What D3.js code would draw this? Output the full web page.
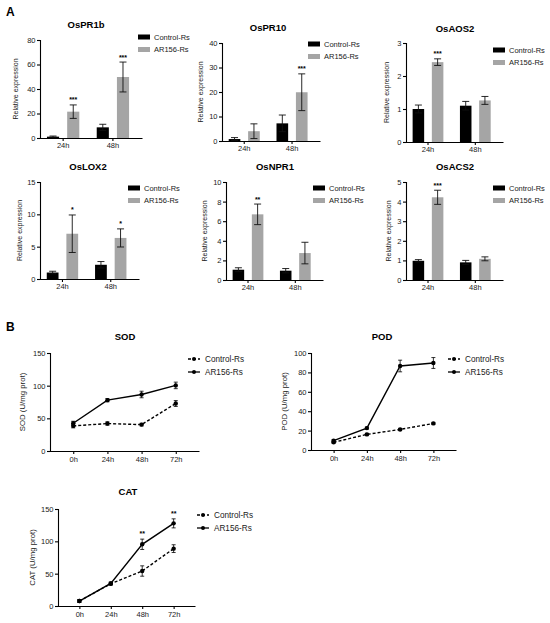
<!DOCTYPE html>
<html>
<head>
<meta charset="utf-8">
<script src="https://cdn.jsdelivr.net/npm/d3@7"></script>
<style>
  body { margin: 0; background: #fff; }
  svg { font-family: "Liberation Sans", Arial, sans-serif; }
</style>
</head>
<body>
<script>
// ---- data ----
const groups = ['24h', '48h'];
const seriesNames = ['Control-Rs', 'AR156-Rs'];
const genes = ['OsPR1b', 'OsPR10', 'OsAOS2', 'OsLOX2', 'OsNPR1', 'OsACS2'];
const controlMean = [[1.1, 8.7], [0.8, 7.2], [1.0, 1.1], [1.0, 2.2], [1.05, 0.95], [0.98, 0.9]];
const controlErr  = [[0.5, 2.5], [0.6, 3.4], [0.12, 0.13], [0.2, 0.5], [0.2, 0.22], [0.06, 0.1]];
const ar156Mean   = [[21.5, 49.8], [4.0, 19.9], [2.42, 1.26], [7.0, 6.35], [6.7, 2.75], [4.22, 1.08]];
const ar156Err    = [[5.5, 12.2], [3.0, 7.5], [0.1, 0.12], [2.9, 1.4], [1.05, 1.1], [0.36, 0.1]];
const ar156Stars  = [['***', '***'], ['', '***'], ['***', ''], ['*', '*'], ['**', ''], ['***', '']];
const geneTicks   = [[0, 20, 40, 60, 80], [0, 10, 20, 30, 40], [0, 1, 2, 3], [0, 5, 10, 15], [0, 2, 4, 6, 8, 10], [0, 1, 2, 3, 4, 5]];

const timePoints = ['0h', '24h', '48h', '72h'];
const enzymes = ['SOD', 'POD', 'CAT'];
const enzControl    = [[38.4, 42, 40.4, 72.7], [7.9, 16.1, 21.2, 27.4], [7.7, 34.5, 54.1, 88.7]];
const enzControlErr = [[3, 2.5, 2, 4.5], [1, 1, 1, 1], [2, 2, 8, 6]];
const enzAr156      = [[42.5, 77.8, 86.5, 100.4], [9.6, 22.6, 86.6, 89.7], [7.7, 35, 95.4, 127.8]];
const enzAr156Err   = [[3, 2.5, 5, 5], [1, 1, 6, 5.6], [2, 2, 8, 7]];
const enzStars      = [['', '', '', ''], ['', '', '', ''], ['', '', '**', '**']];
const enzTicks      = [[0, 50, 100, 150], [0, 20, 40, 60, 80, 100], [0, 50, 100, 150]];

// ---- layout ----
const barLayout = [
  {ax: 40,  top: 40,  bot: 138, end: 142, tx: 86,  ty: 28,  lx: 138, ly: 37,  yl: 18},
  {ax: 222, top: 43,  bot: 141, end: 320, tx: 268, ty: 31,  lx: 308, ly: 44,  yl: 203},
  {ax: 406, top: 43,  bot: 142, end: 503, tx: 455, ty: 32,  lx: 493, ly: 50,  yl: 389},
  {ax: 40,  top: 182, bot: 279, end: 139, tx: 88,  ty: 170, lx: 128, ly: 188, yl: 22},
  {ax: 226, top: 182, bot: 280, end: 323, tx: 275, ty: 170, lx: 313, ly: 188, yl: 207},
  {ax: 406, top: 182, bot: 280, end: 503, tx: 455, ty: 170, lx: 493, ly: 188, yl: 391}
];
const lineLayout = [
  {ax: 50,  top: 353, bot: 451, end: 199, tx: 125, ty: 340, lx: 188, ly: 359, yl: 25},
  {ax: 311, top: 353, bot: 450, end: 456, tx: 382, ty: 340, lx: 448, ly: 359, yl: 287},
  {ax: 58,  top: 509, bot: 606, end: 195, tx: 128, ty: 495, lx: 197, ly: 515, yl: 35}
];
const colors = ['#000000', '#a5a5a5'];
const txt = '#1a1a1a';

const svg = d3.select('body').append('svg')
  .attr('width', 550).attr('height', 623);

svg.append('text').attr('x', 6).attr('y', 16)
  .attr('font-size', 12).attr('font-weight', 'bold').text('A');
svg.append('text').attr('x', 6).attr('y', 331)
  .attr('font-size', 12).attr('font-weight', 'bold').text('B');

function styleAxis(g) {
  g.selectAll('path, line').attr('stroke', '#000').attr('stroke-width', 1.1);
  g.selectAll('text').attr('fill', txt).attr('font-size', 7.5);
}

function drawBarPanel(i) {
  const L = barLayout[i];
  const g = svg.append('g').attr('transform', 'translate(' + L.ax + ',0)');
  const w = L.end - L.ax;

  const y = d3.scaleLinear()
    .domain([0, d3.max(geneTicks[i])])
    .range([L.bot, L.top]);
  const x0 = d3.scaleBand().domain(groups).range([0, w])
    .paddingInner(0.35).paddingOuter(0.2).align(0.35);
  const x1 = d3.scaleBand().domain(seriesNames).range([0, x0.bandwidth()])
    .paddingInner(0.4);

  const rows = [];
  groups.forEach(function(gr, j) {
    rows.push({g: gr, s: seriesNames[0], v: controlMean[i][j], e: controlErr[i][j], star: ''});
    rows.push({g: gr, s: seriesNames[1], v: ar156Mean[i][j], e: ar156Err[i][j], star: ar156Stars[i][j]});
  });

  const bars = g.selectAll('.bar').data(rows).enter().append('g');
  bars.append('rect')
    .attr('x', function(d) { return x0(d.g) + x1(d.s); })
    .attr('y', function(d) { return y(d.v); })
    .attr('width', x1.bandwidth())
    .attr('height', function(d) { return y(0) - y(d.v); })
    .attr('fill', function(d) { return colors[seriesNames.indexOf(d.s)]; });

  const cx = function(d) { return x0(d.g) + x1(d.s) + x1.bandwidth() / 2; };
  const lo = function(d) { return y(Math.max(0, d.v - d.e)); };
  const hi = function(d) { return y(d.v + d.e); };
  bars.append('line')
    .attr('x1', cx).attr('x2', cx).attr('y1', lo).attr('y2', hi)
    .attr('stroke', '#111').attr('stroke-width', 0.9);
  [lo, hi].forEach(function(f) {
    bars.append('line')
      .attr('x1', function(d) { return cx(d) - 3.5; })
      .attr('x2', function(d) { return cx(d) + 3.5; })
      .attr('y1', f).attr('y2', f)
      .attr('stroke', '#111').attr('stroke-width', 0.9);
  });
  bars.append('text')
    .attr('x', cx)
    .attr('y', function(d) { return hi(d) - 2.5; })
    .attr('text-anchor', 'middle')
    .attr('font-size', 7).attr('font-weight', 'bold')
    .text(function(d) { return d.star; });

  g.append('g').call(d3.axisLeft(y).tickValues(geneTicks[i]).tickFormat(d3.format('d'))
      .tickSize(3).tickPadding(1.5))
    .call(styleAxis);
  g.append('g').attr('transform', 'translate(0,' + L.bot + ')')
    .call(d3.axisBottom(x0).tickSize(3).tickPadding(2).tickSizeOuter(0))
    .call(styleAxis);

  svg.append('text').attr('x', L.tx).attr('y', L.ty)
    .attr('text-anchor', 'middle').attr('font-size', 9.5).attr('font-weight', 'bold')
    .text(genes[i]);
  svg.append('text')
    .attr('transform', 'translate(' + L.yl + ',' + (L.top + L.bot) / 2 + ') rotate(-90)')
    .attr('text-anchor', 'middle').attr('font-size', 7).attr('fill', txt)
    .text('Relative expression');

  seriesNames.forEach(function(s, k) {
    svg.append('rect').attr('x', L.lx).attr('y', L.ly - 2.5 + k * 12.5)
      .attr('width', 12).attr('height', 5).attr('fill', colors[k]);
    svg.append('text').attr('x', L.lx + 16).attr('y', L.ly + 2.7 + k * 12.5)
      .attr('font-size', 7.5).attr('fill', txt).text(s);
  });
}

function drawLinePanel(i) {
  const L = lineLayout[i];
  const g = svg.append('g').attr('transform', 'translate(' + L.ax + ',0)');
  const w = L.end - L.ax;

  const y = d3.scaleLinear().domain([0, d3.max(enzTicks[i])]).range([L.bot, L.top]);
  const x = d3.scalePoint().domain(timePoints).range([0, w]).padding(0.68);

  const series = [
    {name: seriesNames[0], v: enzControl[i], e: enzControlErr[i], dash: '3,2'},
    {name: seriesNames[1], v: enzAr156[i], e: enzAr156Err[i], dash: null}
  ];

  const line = d3.line()
    .x(function(d, j) { return x(timePoints[j]); })
    .y(function(d) { return y(d); });

  series.forEach(function(s) {
    g.append('path').datum(s.v)
      .attr('d', line).attr('fill', 'none')
      .attr('stroke', '#000').attr('stroke-width', 1.4)
      .attr('stroke-dasharray', s.dash);
    const pts = g.selectAll(null).data(s.v).enter().append('g');
    const px = function(d, j) { return x(timePoints[j]); };
    const lo = function(d, j) { return y(d - s.e[j]); };
    const hi = function(d, j) { return y(d + s.e[j]); };
    pts.append('line')
      .attr('x1', px).attr('x2', px).attr('y1', lo).attr('y2', hi)
      .attr('stroke', '#000').attr('stroke-width', 0.8);
    [lo, hi].forEach(function(f) {
      pts.append('line')
        .attr('x1', function(d, j) { return px(d, j) - 2; })
        .attr('x2', function(d, j) { return px(d, j) + 2; })
        .attr('y1', f).attr('y2', f)
        .attr('stroke', '#000').attr('stroke-width', 0.8);
    });
    pts.append('circle')
      .attr('cx', px)
      .attr('cy', function(d) { return y(d); })
      .attr('r', 2.2).attr('fill', '#000');
  });

  g.selectAll(null).data(enzStars[i]).enter().append('text')
    .attr('x', function(d, j) { return x(timePoints[j]); })
    .attr('y', function(d, j) { return y(enzAr156[i][j] + enzAr156Err[i][j]) - 3; })
    .attr('text-anchor', 'middle').attr('font-size', 7).attr('font-weight', 'bold')
    .text(function(d) { return d; });

  g.append('g').call(d3.axisLeft(y).tickValues(enzTicks[i]).tickSize(3).tickPadding(1.5))
    .call(styleAxis);
  g.append('g').attr('transform', 'translate(0,' + L.bot + ')')
    .call(d3.axisBottom(x).tickSize(3).tickPadding(3).tickSizeOuter(0))
    .call(styleAxis);

  svg.append('text').attr('x', L.tx).attr('y', L.ty)
    .attr('text-anchor', 'middle').attr('font-size', 9.5).attr('font-weight', 'bold')
    .text(enzymes[i]);
  svg.append('text')
    .attr('transform', 'translate(' + L.yl + ',' + (L.top + L.bot) / 2 + ') rotate(-90)')
    .attr('text-anchor', 'middle').attr('font-size', 7.8).attr('fill', txt)
    .text(enzymes[i] + ' (U/mg prot)');

  series.forEach(function(s, k) {
    const yy = L.ly + k * 13;
    svg.append('line').attr('x1', L.lx).attr('x2', L.lx + 12)
      .attr('y1', yy).attr('y2', yy)
      .attr('stroke', '#000').attr('stroke-width', 1.3)
      .attr('stroke-dasharray', s.dash);
    svg.append('circle').attr('cx', L.lx + 6).attr('cy', yy).attr('r', 2).attr('fill', '#000');
    svg.append('text').attr('x', L.lx + 17).attr('y', yy + 2.9)
      .attr('font-size', 8.2).attr('fill', txt).text(s.name);
  });
}

genes.forEach(function(d, i) { drawBarPanel(i); });
enzymes.forEach(function(d, i) { drawLinePanel(i); });
</script>
</body>
</html>
